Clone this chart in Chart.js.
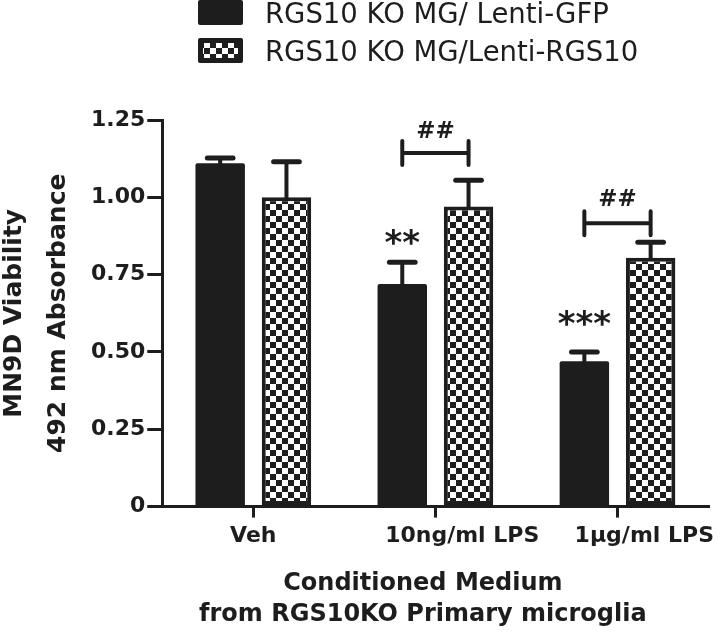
<!DOCTYPE html>
<html>
<head>
<meta charset="utf-8">
<script src="https://cdn.jsdelivr.net/npm/chart.js@4.4.1/dist/chart.umd.min.js"></script>
<style>
  html, body { margin: 0; padding: 0; background: #ffffff; }
  #wrap { width: 720px; height: 634px; }
  canvas { display: block; }
</style>
</head>
<body>
<div id="wrap"><canvas id="c" width="720" height="634"></canvas></div>
<script>
// ---------- data ----------
const categories = ['Veh', '10ng/ml LPS', '1μg/ml LPS'];
const seriesNames = ['RGS10 KO MG/ Lenti-GFP', 'RGS10 KO MG/Lenti-RGS10'];
const lentiGFP = [1.11, 0.72, 0.47];
const lentiGFPErr = [0.017, 0.07, 0.03];
const lentiRGS10 = [1.00, 0.97, 0.805];
const lentiRGS10Err = [0.115, 0.085, 0.05];
const yTickLabels = ['0', '0.25', '0.50', '0.75', '1.00', '1.25'];
const yTitle = ['MN9D Viability', '492 nm Absorbance'];
const xTitle = ['Conditioned Medium', 'from RGS10KO Primary microglia'];
const starMarks = ['', '**', '***'];
const starLevels = [null, 0.871, 0.609];
const hashMarks = ['', '##', '##'];
const bracketLevels = [null, 1.143, 0.916];
const hashLevels = [null, 1.218, 1.0];

// ---------- styles ----------
const INK = '#1d1d1d';
const F = "'DejaVu Sans', sans-serif";
Chart.defaults.font.family = F;
Chart.defaults.color = INK;

const canvas = document.getElementById('c');
const ctx = canvas.getContext('2d');

function makeChecker(cell) {
  const c = document.createElement('canvas');
  c.width = c.height = cell * 2;
  const g = c.getContext('2d');
  g.fillStyle = '#ffffff';
  g.fillRect(0, 0, cell * 2, cell * 2);
  g.fillStyle = INK;
  g.fillRect(0, 0, cell, cell);
  g.fillRect(cell, cell, cell, cell);
  return ctx.createPattern(c, 'repeat');
}
const checker = makeChecker(6);

function centerText(c, txt, cx, cy) {
  c.textAlign = 'center';
  c.textBaseline = 'alphabetic';
  const m = c.measureText(txt);
  c.fillText(txt, cx, cy + (m.actualBoundingBoxAscent - m.actualBoundingBoxDescent) / 2);
}

// error bars (upper whisker only)
const errorBars = {
  id: 'errorBars',
  afterDatasetsDraw(chart) {
    const c = chart.ctx, y = chart.scales.y;
    const vals = [lentiGFP, lentiRGS10];
    const errs = [lentiGFPErr, lentiRGS10Err];
    c.save();
    c.strokeStyle = INK;
    c.lineCap = 'round';
    vals.forEach((series, di) => {
      chart.getDatasetMeta(di).data.forEach((bar, j) => {
        const top = y.getPixelForValue(series[j] + errs[di][j]);
        const half = bar.width * 0.26;
        c.lineWidth = 4;
        c.beginPath();
        c.moveTo(bar.x, bar.y);
        c.lineTo(bar.x, top);
        c.stroke();
        c.lineWidth = 5;
        c.beginPath();
        c.moveTo(bar.x - half, top);
        c.lineTo(bar.x + half, top);
        c.stroke();
      });
    });
    c.restore();
  }
};

// significance marks
const sigMarks = {
  id: 'sigMarks',
  afterDatasetsDraw(chart) {
    const c = chart.ctx, y = chart.scales.y;
    const m0 = chart.getDatasetMeta(0).data, m1 = chart.getDatasetMeta(1).data;
    c.save();
    c.fillStyle = INK;
    c.strokeStyle = INK;
    c.lineWidth = 4;
    c.lineCap = 'round';
    categories.forEach((cat, j) => {
      if (starMarks[j]) {
        c.font = 'bold 34px ' + F;
        centerText(c, starMarks[j], m0[j].x, y.getPixelForValue(starLevels[j]));
      }
      if (hashMarks[j]) {
        const x1 = m0[j].x, x2 = m1[j].x, yb = y.getPixelForValue(bracketLevels[j]);
        c.beginPath();
        c.moveTo(x1, yb); c.lineTo(x2, yb);
        c.moveTo(x1, yb - 12); c.lineTo(x1, yb + 12);
        c.moveTo(x2, yb - 12); c.lineTo(x2, yb + 12);
        c.stroke();
        c.font = 'bold 23px ' + F;
        centerText(c, hashMarks[j], (x1 + x2) / 2, y.getPixelForValue(hashLevels[j]));
      }
    });
    c.restore();
  }
};

// legend (stacked, top)
const stackedLegend = {
  id: 'stackedLegend',
  afterDraw(chart) {
    const c = chart.ctx;
    const rows = [0, 38];
    c.save();
    rows.forEach((top, i) => {
      c.fillStyle = INK;
      c.beginPath();
      c.roundRect(198, top, 45, 25, 2);
      c.fill();
      if (i === 1) {
        c.fillStyle = checker;
        c.fillRect(203, top + 5, 35, 15);
      }
      c.fillStyle = INK;
      c.font = '27.5px ' + F;
      c.textAlign = 'left';
      c.textBaseline = 'alphabetic';
      const cap = c.measureText('H').actualBoundingBoxAscent;
      c.fillText(seriesNames[i], 265, top + 12.5 + cap / 2);
    });
    c.restore();
  }
};

const lead = ' '.repeat(7);
const trail = ' '.repeat(3);

new Chart(ctx, {
  type: 'bar',
  data: {
    labels: categories,
    datasets: [
      { label: seriesNames[0], data: lentiGFP, backgroundColor: INK, borderColor: INK,
        borderWidth: 0, borderRadius: 2 },
      { label: seriesNames[1], data: lentiRGS10, backgroundColor: checker, borderColor: INK,
        borderWidth: 4, borderSkipped: false }
    ]
  },
  options: {
    responsive: false,
    animation: false,
    devicePixelRatio: 1,
    datasets: { bar: { categoryPercentage: 0.728, barPercentage: 0.746 } },
    layout: { padding: { top: 120, left: 0, right: 6, bottom: 0 } },
    plugins: { legend: { display: false }, tooltip: { enabled: false } },
    scales: {
      x: {
        offset: true,
        grid: { display: true, drawOnChartArea: false, drawTicks: true, tickLength: 11,
                lineWidth: 3, color: INK, offset: false },
        border: { display: true, color: INK, width: 3 },
        ticks: {
          color: INK, padding: 5, maxRotation: 0, autoSkip: false,
          font: { family: F, size: 22, weight: 'bold' },
          callback: (v, i) => (i === 0 ? '' : lead) + categories[i]
        },
        title: {
          display: true, color: INK,
          text: xTitle.map(s => s + trail),
          font: { family: F, size: 24, weight: 'bold', lineHeight: 31 / 24 },
          padding: { top: 14, bottom: 4 }
        }
      },
      y: {
        min: 0, max: 1.25,
        grid: { drawOnChartArea: false, drawTicks: true, tickLength: 15, lineWidth: 3, color: INK },
        border: { display: true, color: INK, width: 3 },
        ticks: {
          stepSize: 0.25, color: INK, padding: 2,
          font: { family: F, size: 22, weight: 'bold' },
          callback: (v, i) => yTickLabels[i]
        },
        title: {
          display: true, color: INK, text: yTitle,
          font: { family: F, size: 25, weight: 'bold', lineHeight: 44 / 25 },
          padding: { top: -8, bottom: 9 }
        }
      }
    }
  },
  plugins: [errorBars, sigMarks, stackedLegend]
});
</script>
</body>
</html>
